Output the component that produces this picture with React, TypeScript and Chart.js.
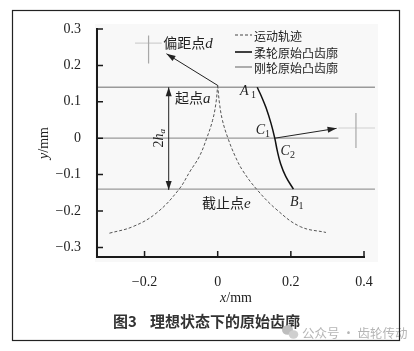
import React, { useEffect, useRef } from 'react';
import { Chart, registerables } from 'chart.js';

Chart.register(...registerables);

// ---------- data ----------
const xTicks = [-0.2, 0, 0.2, 0.4];
const yTicks = [-0.3, -0.2, -0.1, 0, 0.1, 0.2, 0.3];

// motion trajectory (dashed), left and right branches
const trajLeftX = [-0.296, -0.232, -0.168, -0.107, -0.075, -0.05, -0.03, -0.014, -0.005, 0];
const trajLeftY = [-0.261, -0.243, -0.206, -0.142, -0.09, -0.05, 0, 0.049, 0.095, 0.145];
const trajRightX = [0, 0.005, 0.013, 0.028, 0.048, 0.069, 0.108, 0.162, 0.226, 0.296];
const trajRightY = [0.145, 0.095, 0.049, 0, -0.05, -0.09, -0.142, -0.197, -0.243, -0.259];

// flexspline original convex profile (black)
const flexX = [0.108, 0.12, 0.132, 0.146, 0.156, 0.163, 0.172, 0.186, 0.207];
const flexY = [0.14, 0.114, 0.084, 0.04, 0, -0.035, -0.07, -0.105, -0.14];

// circular spline reference lines (gray)
const refLineY = [0.14, 0, -0.14];
const refLineXStart = [-0.33, -0.33, -0.33];
const refLineXEnd = [0.43, 0.33, 0.43];

const legendLabels = ['运动轨迹', '柔轮原始凸齿廓', '刚轮原始凸齿廓'];

const CJK = '"Noto Sans CJK SC"';
const SERIF = '"Liberation Serif"';

const toPts = (xs: number[], ys: number[]) => xs.map((v, i) => ({ x: v, y: ys[i] }));

type Run = { t: string; f: string; dy?: number };

function runsWidth(ctx: CanvasRenderingContext2D, runs: Run[]) {
  let w = 0;
  for (const r of runs) {
    ctx.font = r.f;
    w += ctx.measureText(r.t).width;
  }
  return w;
}

function drawRuns(ctx: CanvasRenderingContext2D, runs: Run[], x: number, y: number, center = false) {
  let cx = center ? x - runsWidth(ctx, runs) / 2 : x;
  ctx.textBaseline = 'alphabetic';
  ctx.textAlign = 'left';
  for (const r of runs) {
    ctx.font = r.f;
    ctx.fillText(r.t, cx, y + (r.dy || 0));
    cx += ctx.measureText(r.t).width;
  }
}

function arrowHead(ctx: CanvasRenderingContext2D, x1: number, y1: number, x2: number, y2: number, len = 9, half = 3) {
  const a = Math.atan2(y2 - y1, x2 - x1);
  ctx.beginPath();
  ctx.moveTo(x2, y2);
  ctx.lineTo(x2 - len * Math.cos(a) + half * Math.sin(a), y2 - len * Math.sin(a) - half * Math.cos(a));
  ctx.lineTo(x2 - len * Math.cos(a) - half * Math.sin(a), y2 - len * Math.sin(a) + half * Math.cos(a));
  ctx.closePath();
  ctx.fill();
}

function arrow(ctx: CanvasRenderingContext2D, x1: number, y1: number, x2: number, y2: number, both = false) {
  ctx.beginPath();
  ctx.moveTo(x1, y1);
  ctx.lineTo(x2, y2);
  ctx.stroke();
  arrowHead(ctx, x1, y1, x2, y2);
  if (both) arrowHead(ctx, x2, y2, x1, y1);
}

const decoPlugin = {
  id: 'deco',
  beforeDraw(chart: any) {
    const ctx = chart.ctx as CanvasRenderingContext2D;
    ctx.save();
    ctx.fillStyle = '#ffffff';
    ctx.fillRect(0, 0, chart.width, chart.height);
    ctx.fillStyle = '#f8f8f8';
    ctx.fillRect(95, 24, 283, 238);
    ctx.restore();
  },
  afterDatasetsDraw(chart: any) {
    const ctx = chart.ctx as CanvasRenderingContext2D;
    const xs = chart.scales.x;
    const ys = chart.scales.y;
    const px = (v: number) => xs.getPixelForValue(v);
    const py = (v: number) => ys.getPixelForValue(v);
    const area = chart.chartArea;
    ctx.save();

    // gray crosses
    ctx.lineWidth = 1.2;
    ctx.strokeStyle = '#d0d0d0';
    ctx.beginPath();
    ctx.moveTo(px(-0.226), py(0.261));
    ctx.lineTo(px(-0.153), py(0.261));
    ctx.moveTo(px(0.33), py(0.028));
    ctx.lineTo(px(0.43), py(0.028));
    ctx.stroke();
    ctx.strokeStyle = '#a8a8a8';
    ctx.beginPath();
    ctx.moveTo(px(-0.189), py(0.282));
    ctx.lineTo(px(-0.189), py(0.205));
    ctx.moveTo(px(0.378), py(0.069));
    ctx.lineTo(px(0.378), py(-0.027));
    ctx.stroke();

    // arrows
    ctx.strokeStyle = '#222';
    ctx.fillStyle = '#222';
    ctx.lineWidth = 1;
    arrow(ctx, px(0), py(0.145), px(-0.14), py(0.232));
    arrow(ctx, px(0.156), py(0), px(0.325), py(0.027));
    arrow(ctx, px(-0.134), py(-0.142), px(-0.134), py(0.14), true);

    // axes
    ctx.strokeStyle = '#1a1a1a';
    ctx.lineWidth = 2;
    ctx.beginPath();
    ctx.moveTo(area.left, area.top - 1);
    ctx.lineTo(area.left, area.bottom);
    ctx.lineTo(area.right + 1, area.bottom);
    ctx.stroke();
    ctx.lineWidth = 1.5;
    ctx.beginPath();
    for (const t of yTicks) {
      ctx.moveTo(area.left, py(t));
      ctx.lineTo(area.left + 6, py(t));
    }
    for (const t of xTicks) {
      ctx.moveTo(px(t), area.bottom);
      ctx.lineTo(px(t), area.bottom - 6);
    }
    ctx.stroke();

    // labels
    ctx.fillStyle = '#222';
    const cjk14 = `14px ${CJK}`;
    const it15 = `italic 15px ${SERIF}`;
    const it14 = `italic 14px ${SERIF}`;
    const sub = `10px ${SERIF}`;
    drawRuns(ctx, [{ t: '偏距点', f: cjk14 }, { t: 'd', f: it15 }], px(-0.149), py(0.249));
    drawRuns(ctx, [{ t: '起点', f: cjk14 }, { t: 'a', f: it15 }], px(-0.117), py(0.0975));
    drawRuns(ctx, [{ t: '截止点', f: cjk14 }, { t: 'e', f: it15 }], px(-0.043), py(-0.191));
    drawRuns(ctx, [{ t: 'A', f: it14 }, { t: ' 1', f: sub, dy: 3 }], px(0.061), py(0.12));
    drawRuns(ctx, [{ t: 'C', f: it14 }, { t: '1', f: sub, dy: 3 }], px(0.104), py(0.012));
    drawRuns(ctx, [{ t: 'C', f: it14 }, { t: '2', f: sub, dy: 3 }], px(0.172), py(-0.045));
    drawRuns(ctx, [{ t: 'B', f: it14 }, { t: '1', f: sub, dy: 3 }], px(0.1975), py(-0.187));

    // 2h_a rotated
    ctx.save();
    ctx.translate(px(-0.163), py(0));
    ctx.rotate(-Math.PI / 2);
    drawRuns(ctx, [{ t: '2', f: `14px ${SERIF}` }, { t: 'h', f: it14 }, { t: 'a', f: `italic 9px ${SERIF}`, dy: 2 }], 0, 5, true);
    ctx.restore();

    // axis titles
    ctx.save();
    ctx.translate(43, 143);
    ctx.rotate(-Math.PI / 2);
    drawRuns(ctx, [{ t: 'y', f: it14 }, { t: '/mm', f: `14px ${SERIF}` }], 0, 5, true);
    ctx.restore();
    drawRuns(ctx, [{ t: 'x', f: it14 }, { t: '/mm', f: `14px ${SERIF}` }], 236, 302, true);

    // legend
    const lx = 235, lw = 17, rows = [35, 52, 67];
    const styles = [
      { c: '#444', w: 1, d: [3, 2] },
      { c: '#111', w: 1.6, d: [] as number[] },
      { c: '#9a9a9a', w: 1.6, d: [] as number[] },
    ];
    legendLabels.forEach((lab, i) => {
      const s = styles[i];
      ctx.strokeStyle = s.c;
      ctx.lineWidth = s.w;
      ctx.setLineDash(s.d);
      ctx.beginPath();
      ctx.moveTo(lx, rows[i]);
      ctx.lineTo(lx + lw, rows[i]);
      ctx.stroke();
      ctx.setLineDash([]);
      ctx.fillStyle = '#222';
      ctx.font = `12px ${CJK}`;
      ctx.textBaseline = 'middle';
      ctx.textAlign = 'left';
      ctx.fillText(lab, lx + lw + 2, rows[i] + 1);
    });

    // caption
    ctx.fillStyle = '#333';
    ctx.font = `bold 15px ${CJK}`;
    ctx.textBaseline = 'middle';
    ctx.textAlign = 'left';
    ctx.fillText('图3', 113, 321);
    ctx.fillText('理想状态下的原始齿廓', 150, 321);

    // watermark
    ctx.fillStyle = '#bdbdbd';
    ctx.beginPath();
    ctx.ellipse(287.5, 330, 5.5, 4.8, 0, 0, Math.PI * 2);
    ctx.fill();
    ctx.fillStyle = '#cfcfcf';
    ctx.beginPath();
    ctx.ellipse(293.5, 334.5, 4.8, 4.2, 0, 0, Math.PI * 2);
    ctx.fill();
    ctx.fillStyle = '#b5b5b5';
    ctx.font = `12.5px ${CJK}`;
    ctx.fillText('公众号 · 齿轮传动', 302, 333);

    // border
    ctx.strokeStyle = '#222';
    ctx.lineWidth = 1.2;
    ctx.strokeRect(12.5, 10.5, 387, 330);
    ctx.restore();
  },
};

const fmt = (v: number) => {
  if (Math.abs(v) < 1e-9) return '0';
  return (v < 0 ? '\u2212' : '') + Math.abs(v).toFixed(1);
};

export default function App() {
  const ref = useRef<HTMLCanvasElement | null>(null);
  useEffect(() => {
    document.body.style.margin = '0';
    if (!ref.current) return;
    const grayLines = refLineY.map((yv, i) => ({
      label: i === 0 ? legendLabels[2] : '',
      data: [{ x: refLineXStart[i], y: yv }, { x: refLineXEnd[i], y: yv }],
      borderColor: '#9a9a9a',
      borderWidth: 1.3,
      pointRadius: 0,
      clip: false as any,
    }));
    const chart = new Chart(ref.current, {
      type: 'line',
      data: {
        datasets: [
          {
            label: legendLabels[1],
            data: toPts(flexX, flexY),
            borderColor: '#111',
            borderWidth: 1.5,
            pointRadius: 0,
            tension: 0.4,
          },
          {
            label: legendLabels[0],
            data: toPts(trajLeftX, trajLeftY),
            borderColor: '#555',
            borderWidth: 1,
            borderDash: [3, 2],
            pointRadius: 0,
            tension: 0.4,
          },
          {
            label: '',
            data: toPts(trajRightX, trajRightY),
            borderColor: '#555',
            borderWidth: 1,
            borderDash: [3, 2],
            pointRadius: 0,
            tension: 0.4,
          },
          ...grayLines,
        ] as any,
      },
      options: {
        animation: false,
        responsive: false,
        devicePixelRatio: 1,
        layout: { padding: { top: 29, right: 50, left: 0, bottom: 0 } },
        plugins: { legend: { display: false }, tooltip: { enabled: false } },
        scales: {
          x: {
            type: 'linear',
            min: -0.33,
            max: 0.4,
            grid: { display: false },
            border: { display: false },
            afterBuildTicks: (s: any) => {
              s.ticks = xTicks.map((v) => ({ value: v }));
            },
            afterFit: (s: any) => {
              s.height = 94;
            },
            ticks: {
              padding: 9,
              color: '#222',
              font: { family: 'Liberation Serif', size: 14 },
              maxRotation: 0,
              callback: (v: any) => fmt(Number(v)),
            },
          },
          y: {
            type: 'linear',
            min: -0.3264,
            max: 0.3,
            grid: { display: false },
            border: { display: false },
            afterBuildTicks: (s: any) => {
              s.ticks = yTicks.map((v) => ({ value: v }));
            },
            afterFit: (s: any) => {
              s.width = 97;
            },
            ticks: {
              padding: 8,
              color: '#222',
              font: { family: 'Liberation Serif', size: 14 },
              callback: (v: any) => fmt(Number(v)),
            },
          },
        },
      } as any,
      plugins: [decoPlugin],
    });
    return () => chart.destroy();
  }, []);
  return (
    <div style={{ width: 414, height: 351 }}>
      <canvas ref={ref} width={414} height={351} style={{ display: 'block' }} />
    </div>
  );
}
